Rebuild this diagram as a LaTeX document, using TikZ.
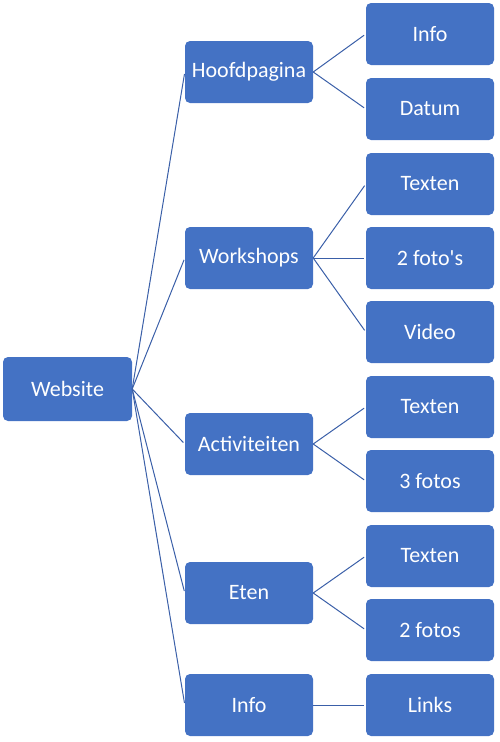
\documentclass[tikz,border=0pt]{standalone}
\usepackage{fontspec}
\setmainfont{Carlito}
\usetikzlibrary{positioning}
\definecolor{boxblue}{HTML}{4472C4}
\definecolor{lineblue}{HTML}{3A5FA8}

\begin{document}
\begin{tikzpicture}[x=1pt,y=-1pt]
\tikzset{
  sitebox/.style={rectangle,rounded corners=5pt,fill=boxblue,text=white,minimum width=128pt,minimum height=62pt,inner sep=1pt,font=\fontsize{22}{24}\selectfont},
  link/.style={draw=lineblue,line width=1pt,shorten >=2pt}
}
\useasboundingbox (0,0) rectangle (500,742);
\node[sitebox,minimum width=129pt,minimum height=64pt] (n_web) at (67.5,389) {Website};
\node[sitebox] (n_hoofd) at (249,72) {Hoofdpagina};
\node[sitebox] (n_work) at (249,258) {Workshops};
\node[sitebox] (n_act) at (249,444) {Activiteiten};
\node[sitebox] (n_eten) at (249,593) {Eten};
\node[sitebox] (n_info) at (249,705) {Info};
\node[sitebox] (n_h1) at (430,34) {Info};
\node[sitebox] (n_h2) at (430,109) {Datum};
\node[sitebox] (n_w1) at (430,184) {Texten};
\node[sitebox] (n_w2) at (430,258) {2 foto\textquotesingle s};
\node[sitebox] (n_w3) at (430,332) {Video};
\node[sitebox] (n_a1) at (430,407) {Texten};
\node[sitebox] (n_a2) at (430,481) {3 fotos};
\node[sitebox] (n_e1) at (430,556) {Texten};
\node[sitebox] (n_e2) at (430,630) {2 fotos};
\node[sitebox] (n_i1) at (430,705) {Links};
\draw[link] (n_web.east) -- (n_hoofd.west);
\draw[link] (n_web.east) -- (n_work.west);
\draw[link] (n_web.east) -- (n_act.west);
\draw[link] (n_web.east) -- (n_eten.west);
\draw[link] (n_web.east) -- (n_info.west);
\draw[link] (n_hoofd.east) -- (n_h1.west);
\draw[link] (n_hoofd.east) -- (n_h2.west);
\draw[link] (n_work.east) -- (n_w1.west);
\draw[link] (n_work.east) -- (n_w2.west);
\draw[link] (n_work.east) -- (n_w3.west);
\draw[link] (n_act.east) -- (n_a1.west);
\draw[link] (n_act.east) -- (n_a2.west);
\draw[link] (n_eten.east) -- (n_e1.west);
\draw[link] (n_eten.east) -- (n_e2.west);
\draw[link] (n_info.east) -- (n_i1.west);
\end{tikzpicture}
\end{document}
